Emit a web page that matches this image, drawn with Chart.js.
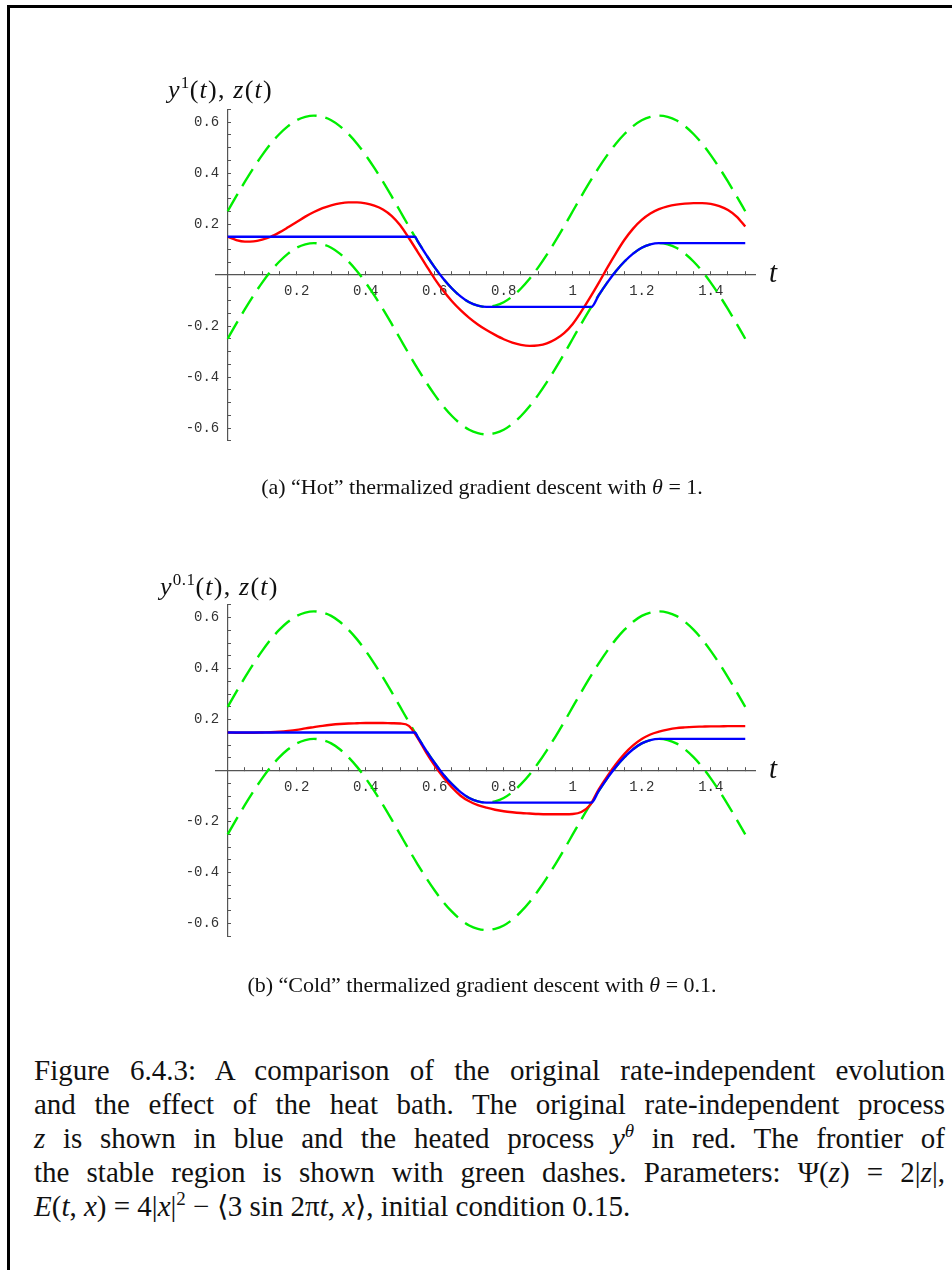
<!DOCTYPE html>
<html>
<head>
<meta charset="utf-8">
<script src="https://cdn.jsdelivr.net/npm/chart.js@4.4.1/dist/chart.umd.min.js"></script>
<style>
  html, body { margin: 0; padding: 0; background: #fff; }
  body { width: 952px; height: 1270px; position: relative; overflow: hidden; }
  .frame { position: absolute; left: 7px; top: 5px; right: -10px; bottom: -10px;
           border-left: 3px solid #000; border-top: 3px solid #000; }
  canvas { position: absolute; left: 0; }
  .ttl { position: absolute; font-family: 'Liberation Serif', serif; font-size: 26px; letter-spacing: 1.2px; line-height: 1; white-space: nowrap; color: #111; }
  .ttl .sup { position: relative; top: -10px; font-size: 17px; font-style: normal; letter-spacing: 0.5px; }
  .tlab { position: absolute; font-family: 'Liberation Serif', serif; font-style: italic; font-size: 29px; line-height: 1; color: #111; }
  .sub { position: absolute; left: 0; width: 964px; text-align: center; font-family: 'Liberation Serif', serif; font-size: 22px; line-height: 30px; color: #111; }
  .cap { position: absolute; left: 34px; width: 911px; font-family: 'Liberation Serif', serif; font-size: 29px; line-height: 34px; color: #111; }
  .cap div { text-align: justify; text-align-last: justify; }
  .cap div.last { text-align-last: left; }
</style>
</head>
<body>
<div class="frame"></div>

<canvas id="hot" width="952" height="420" style="top:60px"></canvas>
<canvas id="cold" width="952" height="420" style="top:560px"></canvas>

<div class="ttl" style="left:168px; top:77px"><i>y</i><span class="sup">1</span>(<i>t</i>), <i>z</i>(<i>t</i>)</div>
<div class="ttl" style="left:160px; top:574px"><i>y</i><span class="sup">0.1</span>(<i>t</i>), <i>z</i>(<i>t</i>)</div>
<div class="tlab" style="left:769px; top:258px">t</div>
<div class="tlab" style="left:769px; top:754px">t</div>

<div class="sub" style="top:472px">(a) “Hot” thermalized gradient descent with <i>θ</i> = 1.</div>
<div class="sub" style="top:970px">(b) “Cold” thermalized gradient descent with <i>θ</i> = 0.1.</div>

<div class="cap" style="top:1053px">
  <div>Figure 6.4.3: A comparison of the original rate-independent evolution</div>
  <div>and the effect of the heat bath. The original rate-independent process</div>
  <div><i>z</i> is shown in blue and the heated process <i>y</i><sup style="font-size:19px;line-height:0"><i>θ</i></sup> in red. The frontier of</div>
  <div>the stable region is shown with green dashes. Parameters: Ψ(<i>z</i>) = 2|<i>z</i>|,</div>
  <div class="last"><i>E</i>(<i>t</i>, <i>x</i>) = 4|<i>x</i>|<sup style="font-size:19px;line-height:0">2</sup> − ⟨3 sin 2π<i>t</i>, <i>x</i>⟩, initial condition 0.15.</div>
</div>

<script>
// time samples (t)
const t = [0, 0.025, 0.05, 0.075, 0.1, 0.125, 0.15, 0.175, 0.2, 0.225,
  0.25, 0.275, 0.3, 0.325, 0.35, 0.375, 0.4, 0.425, 0.45, 0.475,
  0.5, 0.525, 0.55, 0.575, 0.6, 0.625, 0.65, 0.675, 0.7, 0.725,
  0.75, 0.775, 0.8, 0.825, 0.85, 0.875, 0.9, 0.925, 0.95, 0.975,
  1, 1.025, 1.05, 1.075, 1.1, 1.125, 1.15, 1.175, 1.2, 1.225,
  1.25, 1.275, 1.3, 1.325, 1.35, 1.375, 1.4, 1.425, 1.45, 1.475, 1.5];

// frontier of the stable region (green dashes), same in both panels
const greenUpper = [0.25, 0.309, 0.366, 0.42, 0.47, 0.515, 0.553, 0.584, 0.607, 0.62,
  0.625, 0.62, 0.607, 0.584, 0.553, 0.515, 0.47, 0.42, 0.366, 0.309,
  0.25, 0.191, 0.134, 0.08, 0.03, -0.015, -0.053, -0.084, -0.107, -0.12,
  -0.125, -0.12, -0.107, -0.084, -0.053, -0.015, 0.03, 0.08, 0.134, 0.191,
  0.25, 0.309, 0.366, 0.42, 0.47, 0.515, 0.553, 0.584, 0.607, 0.62,
  0.625, 0.62, 0.607, 0.584, 0.553, 0.515, 0.47, 0.42, 0.366, 0.309, 0.25];
const greenLower = [-0.25, -0.191, -0.134, -0.08, -0.03, 0.015, 0.053, 0.084, 0.107, 0.12,
  0.125, 0.12, 0.107, 0.084, 0.053, 0.015, -0.03, -0.08, -0.134, -0.191,
  -0.25, -0.309, -0.366, -0.42, -0.47, -0.515, -0.553, -0.584, -0.607, -0.62,
  -0.625, -0.62, -0.607, -0.584, -0.553, -0.515, -0.47, -0.42, -0.366, -0.309,
  -0.25, -0.191, -0.134, -0.08, -0.03, 0.015, 0.053, 0.084, 0.107, 0.12,
  0.125, 0.12, 0.107, 0.084, 0.053, 0.015, -0.03, -0.08, -0.134, -0.191, -0.25];

// rate-independent process z(t) (blue), with its own time points at the corners
const blueT = [0, 0.543, 0.55, 0.575, 0.6, 0.625, 0.65, 0.675, 0.7, 0.725, 0.75,
  1.054, 1.075, 1.1, 1.125, 1.15, 1.175, 1.2, 1.225, 1.25, 1.5];
const blueZ = [0.15, 0.15, 0.134, 0.08, 0.03, -0.015, -0.053, -0.084, -0.107, -0.12, -0.125,
  -0.125, -0.08, -0.03, 0.015, 0.053, 0.084, 0.107, 0.12, 0.125, 0.125];

// heated process, theta = 1 (red, top panel)
const redHot = [0.15, 0.137, 0.131, 0.132, 0.139, 0.15, 0.167, 0.187, 0.208, 0.229,
  0.247, 0.262, 0.273, 0.281, 0.285, 0.285, 0.281, 0.272, 0.257, 0.232,
  0.195, 0.145, 0.092, 0.038, -0.015, -0.062, -0.103, -0.138, -0.168, -0.194,
  -0.216, -0.235, -0.252, -0.265, -0.274, -0.278, -0.276, -0.268, -0.252, -0.228,
  -0.192, -0.143, -0.089, -0.032, 0.028, 0.085, 0.138, 0.182, 0.216, 0.241,
  0.258, 0.269, 0.276, 0.28, 0.282, 0.282, 0.279, 0.27, 0.255, 0.229, 0.19];

// heated process, theta = 0.1 (red, bottom panel)
const redCold = [0.15, 0.149, 0.149, 0.149, 0.15, 0.151, 0.153, 0.156, 0.16, 0.166,
  0.171, 0.176, 0.18, 0.183, 0.185, 0.186, 0.187, 0.187, 0.187, 0.186,
  0.185, 0.176, 0.13, 0.072, 0.02, -0.026, -0.066, -0.098, -0.12, -0.135,
  -0.145, -0.153, -0.159, -0.163, -0.166, -0.168, -0.17, -0.171, -0.171, -0.171,
  -0.17, -0.162, -0.135, -0.074, -0.022, 0.025, 0.066, 0.099, 0.124, 0.142,
  0.153, 0.161, 0.167, 0.17, 0.172, 0.173, 0.174, 0.174, 0.175, 0.175, 0.175];

const xTickLabels = ['0.2', '0.4', '0.6', '0.8', '1', '1.2', '1.4'];
const yTickLabels = ['-0.6', '-0.4', '-0.2', '0.2', '0.4', '0.6'];

function pts(xs, ys) {
    return xs.map((x, i) => ({ x: x, y: ys[i] }));
}

function findLabel(list, v) {
    return list.find(s => Math.abs(parseFloat(s) - v) < 1e-6) || '';
}

function onGrid(v) {
    return Math.abs(v / 0.05 - Math.round(v / 0.05)) < 1e-6 && Math.abs(v) > 1e-9;
}

const tickFont = { family: "'Liberation Mono', monospace", size: 14 };
const axisColor = '#555';

function newChart(id, red, pad) {
    const line = (data, color, dash) => ({
        data: data,
        borderColor: color,
        borderWidth: 2.4,
        borderDash: dash || [],
        pointRadius: 0,
        fill: false,
        cubicInterpolationMode: 'monotone'
    });
    return new Chart(document.getElementById(id), {
        type: 'line',
        data: {
            datasets: [
                line(pts(blueT, blueZ), '#0000ff'),
                line(pts(t, red), '#ff0000'),
                line(pts(t, greenUpper), '#00ee00', [20, 9]),
                line(pts(t, greenLower), '#00ee00', [20, 9])
            ]
        },
        options: {
            responsive: false,
            animation: false,
            layout: { padding: pad },
            plugins: { legend: { display: false }, tooltip: { enabled: false } },
            scales: {
                x: {
                    type: 'linear',
                    min: -0.035, max: 1.53,
                    position: { y: 0 },
                    border: { color: axisColor, width: 1.2 },
                    grid: {
                        drawOnChartArea: false,
                        tickLength: -4,
                        tickColor: ctx => onGrid(ctx.tick.value) ? axisColor : 'transparent',
                        tickWidth: 1
                    },
                    ticks: {
                        stepSize: 0.05,
                        includeBounds: false,
                        autoSkip: false,
                        maxRotation: 0,
                        padding: 12,
                        color: '#333',
                        font: tickFont,
                        callback: v => findLabel(xTickLabels, v)
                    }
                },
                y: {
                    type: 'linear',
                    min: -0.65, max: 0.65,
                    position: { x: 0 },
                    border: { color: axisColor, width: 1.2 },
                    grid: {
                        drawOnChartArea: false,
                        tickLength: -4,
                        tickColor: ctx => onGrid(ctx.tick.value) ? axisColor : 'transparent',
                        tickWidth: 1
                    },
                    ticks: {
                        stepSize: 0.05,
                        includeBounds: false,
                        autoSkip: false,
                        padding: 8,
                        color: '#333',
                        font: tickFont,
                        callback: v => {
                            const s = findLabel(yTickLabels, v);
                            return s ? s + ' ' : '';
                        }
                    }
                }
            }
        }
    });
}

newChart('hot', redHot, { left: 215.6, right: 196.4, top: 49.25, bottom: 39.25 });
newChart('cold', redCold, { left: 215.6, right: 196.4, top: 44.95, bottom: 43.55 });
</script>
</body>
</html>
